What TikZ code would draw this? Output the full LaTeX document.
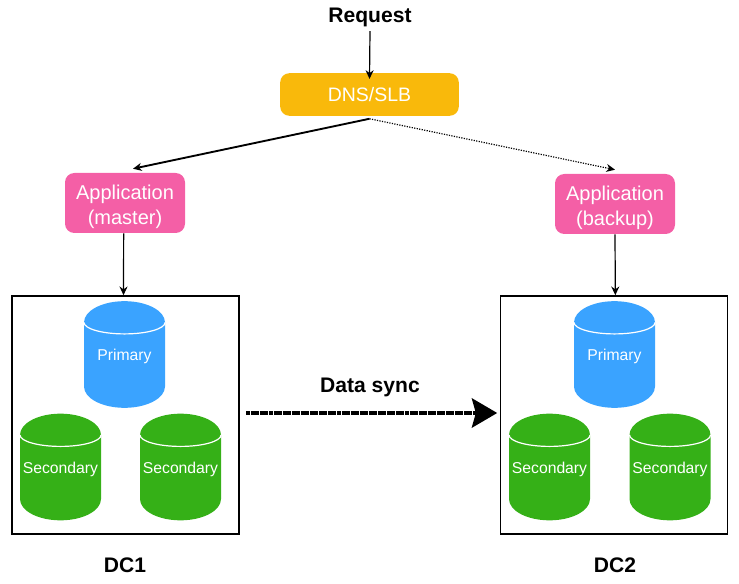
\documentclass[tikz,border=0pt]{standalone}
\usepackage{fontspec}
\setmainfont{Liberation Sans}
\usepackage{xcolor}
\usetikzlibrary{shapes.geometric, arrows.meta, positioning}
\definecolor{cYellow}{RGB}{249,185,11}
\definecolor{cPink}{RGB}{244,95,166}
\definecolor{cBlue}{RGB}{58,163,255}
\definecolor{cGreen}{RGB}{53,176,23}
\tikzset{
	router/.style={rectangle, rounded corners=7pt, minimum width=134pt, minimum height=32pt, text centered, align=center, fill=cYellow, text=white, font=\fontsize{14.6}{17}\selectfont},
	appbox/.style={rectangle, rounded corners=7pt, minimum width=90pt, minimum height=45pt, inner sep=0pt, text centered, align=center, fill=cPink, text=white, font=\fontsize{15}{18.8}\selectfont},
	dcbox/.style={rectangle, draw=black, line width=1.2pt, minimum width=170pt, minimum height=178.5pt},
	dbase/.style={cylinder, shape border rotate=90, aspect=0.57, anchor=shape center, minimum width=60.75pt, minimum height=80pt, inner sep=0pt, outer sep=0pt, text=white, font=\fontsize{11.8}{14}\selectfont},
	caption/.style={font=\bfseries\fontsize{15.8}{18}\selectfont},
	flowarrow/.style={-{Stealth[length=6.5pt, width=6pt]}, line width=0.9pt},
}

\begin{document}
\begin{tikzpicture}[x=0.75pt, y=-0.75pt]
	\useasboundingbox (0,0) rectangle (739,584);
	\node[caption] (request) at (370,17) {Request};
	\node[router] (dns) at (369.5,94.5) {DNS/SLB};
	\node[appbox] (master) at (125,203) {\rule{0pt}{17pt}Application\\(master)};
	\node[appbox] (backup) at (615,204) {\rule{0pt}{17pt}Application\\(backup)};
	\node[dcbox] (dc1) at (125.5,415) {};
	\node[dcbox] (dc2) at (614,415) {};
	% databases in both data centres
	\foreach \nam/\xx/\yy/\col/\lab in {pa/124.5/354.5/cBlue/Primary, sa/60.5/467/cGreen/Secondary, sb/180.5/467/cGreen/Secondary, pb/614.5/354.5/cBlue/Primary, sc/549.5/467/cGreen/Secondary, sd/670/467/cGreen/Secondary} {
		\node[dbase, fill=\col] (\nam) at (\xx,\yy) {\makebox[56pt]{\raisebox{15pt}{\lab}}};
		\draw[white, line width=0.9pt] (\nam.before top) arc[start angle=180, end angle=360, x radius=30.4pt, y radius=8.6pt];
	}
	\node[caption] (dc1label) at (125,565) {DC1};
	\node[caption] (dc2label) at (615,565) {DC2};
	\node[caption] (synclabel) at (370,387) {Data sync};

	\draw[flowarrow] (request.south) -- ([yshift=-4.5pt]dns.north);
	\draw[flowarrow, line width=1.4pt] ([yshift=-2pt]dns.south) -- ([xshift=6pt, yshift=3pt]master.north);
	\draw[flowarrow, densely dotted] ([yshift=-2pt]dns.south) -- ([yshift=3pt]backup.north);
	\draw[flowarrow] ([xshift=-1pt]master.south) -- ([xshift=-1.5pt]dc1.north);
	\draw[flowarrow] (backup.south) -- ([xshift=1pt]dc2.north);
	% replication between the two sites
	\draw[-{Stealth[length=19pt, width=22pt, inset=3pt]}, line width=2.6pt, dash pattern=on 3pt off 0.4pt, shorten <=5pt, shorten >=2pt] ([yshift=1.5pt]dc1.east) -- ([yshift=1.5pt]dc2.west);
\end{tikzpicture}
\end{document}
